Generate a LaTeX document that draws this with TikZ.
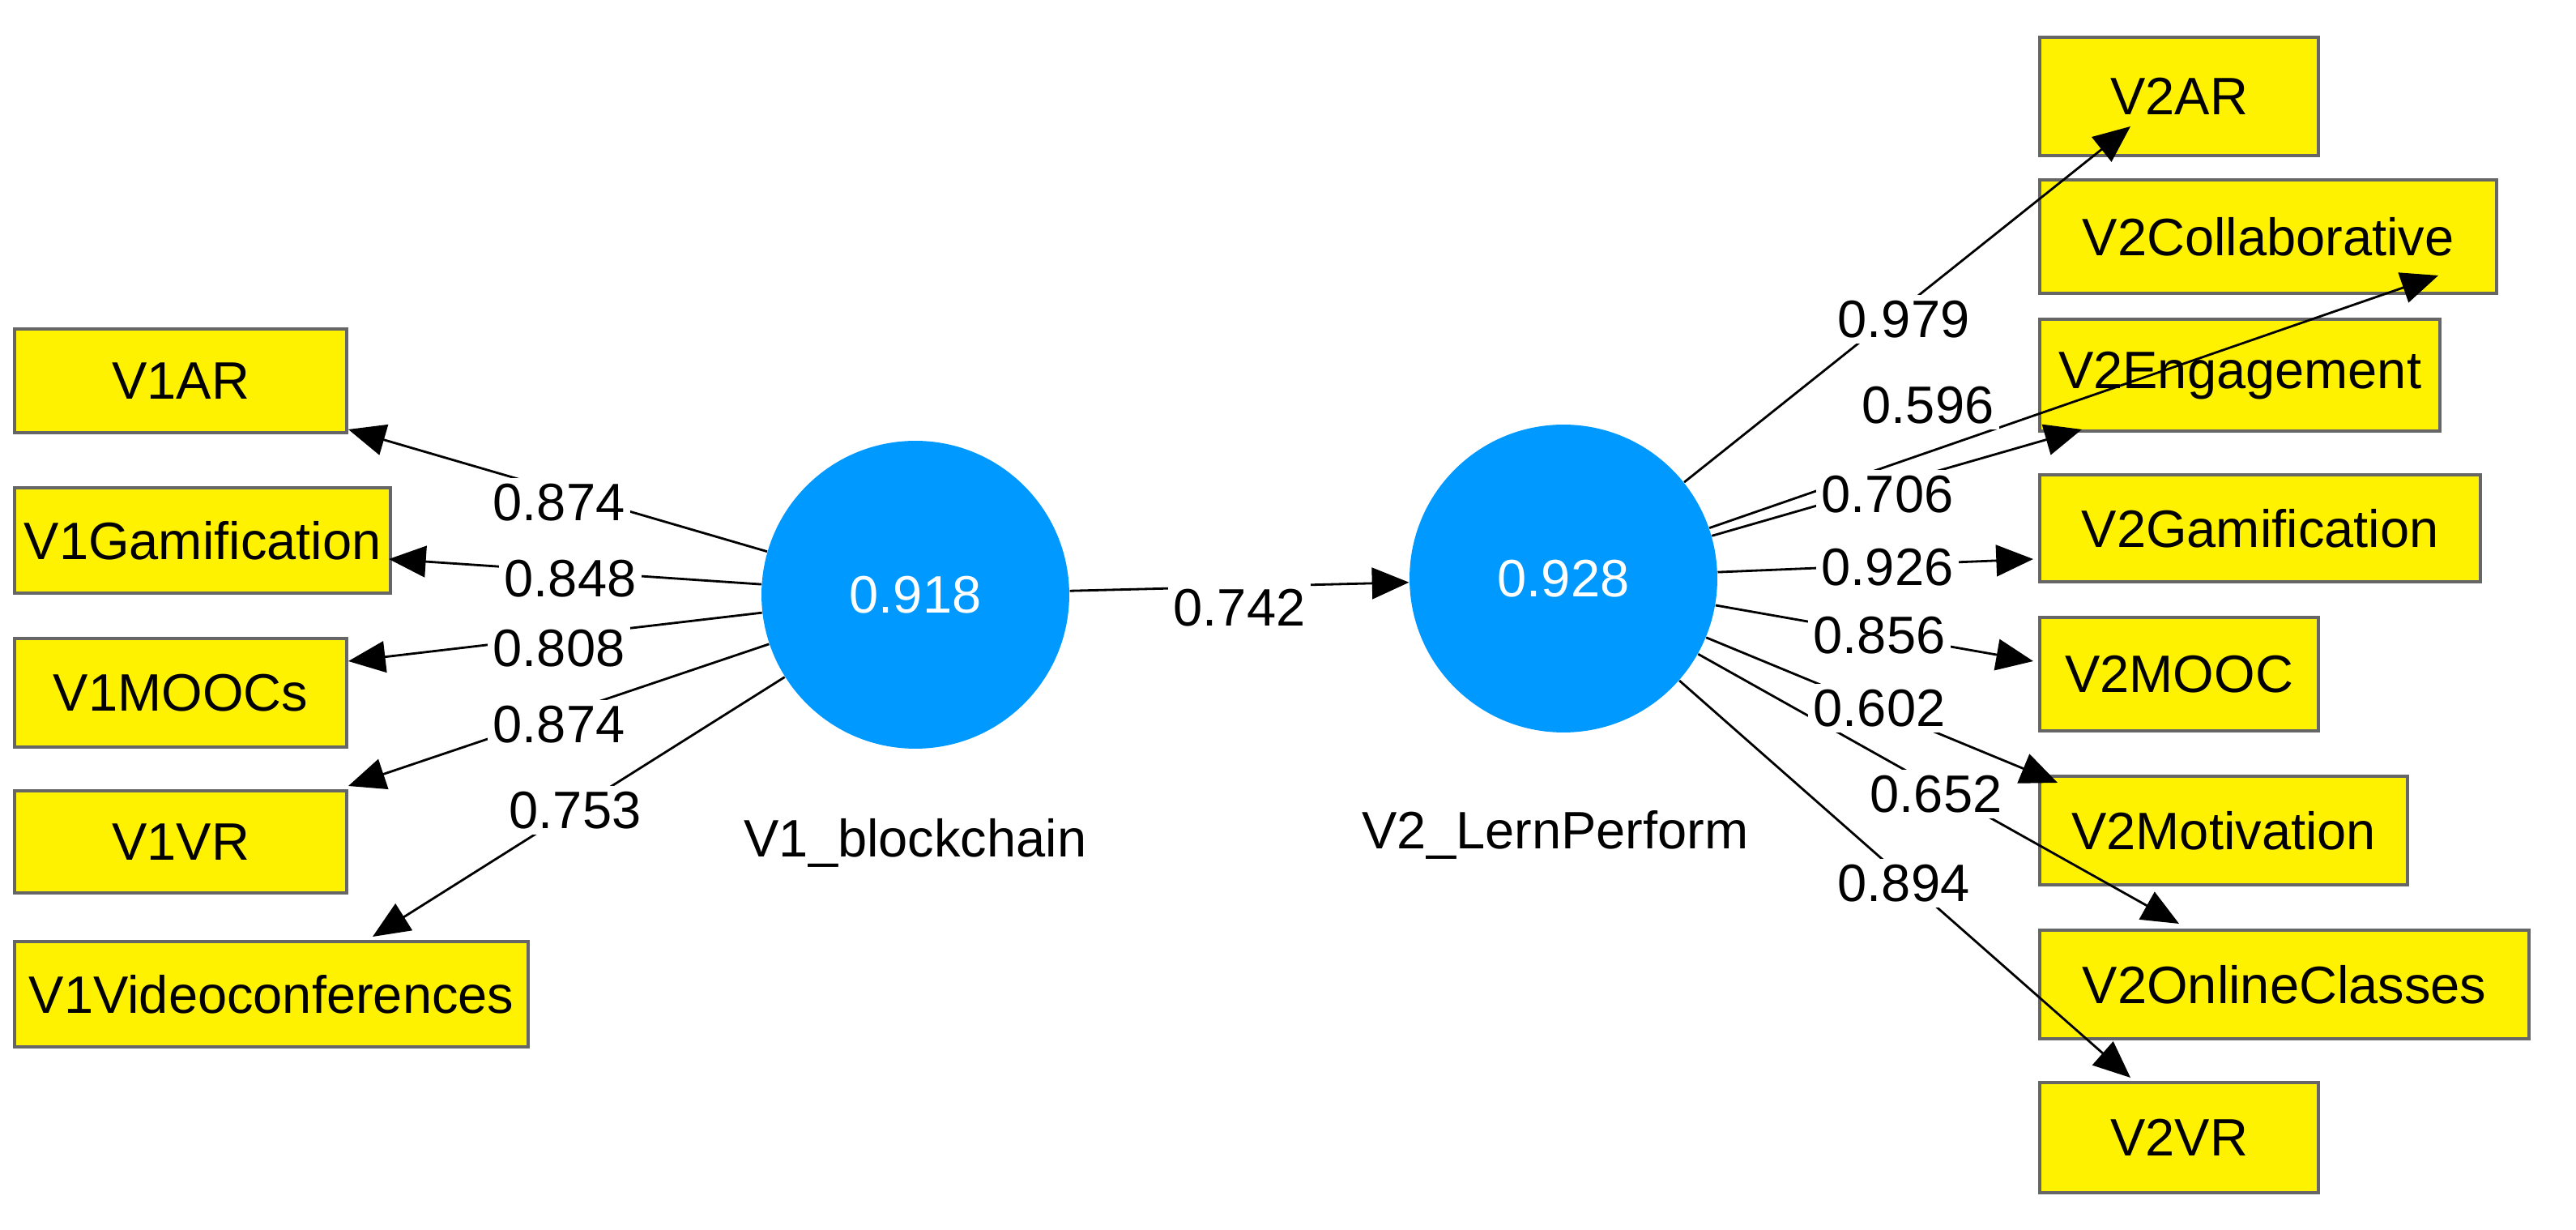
\documentclass[tikz,border=0pt]{standalone}
\usepackage{fontspec}
\setmainfont{Liberation Sans}
\usetikzlibrary{arrows.meta}
\definecolor{lv}{RGB}{0,153,255}
\begin{document}
\begin{tikzpicture}[x=0.02cm,y=-0.02cm,
 font=\fontsize{18.5}{21}\selectfont,
 box/.style={draw=black!60,fill=yellow,line width=1.2pt,inner sep=0pt},
 lv/.style={circle,fill=lv,minimum size=3.8cm,inner sep=0pt,text=white},
 ar/.style={-{Triangle[length=13pt,width=11pt]},line width=0.8pt},
 lb/.style={fill=white,inner sep=2pt}]
\useasboundingbox (0,0) rectangle (1590,759);
\newcommand\bx[5]{\node[box,minimum width=#3*0.02cm-#2*0.02cm,minimum height=#5*0.02cm-#4*0.02cm,anchor=north west] (#1) at (#2,#4) {#1};}
% left boxes
\bx{V1AR}{8}{213}{202}{266}
\bx{V1Gamification}{8}{240}{300}{365}
\bx{V1MOOCs}{8}{213}{393}{460}
\bx{V1VR}{8}{213}{487}{550}
\bx{V1Videoconferences}{8}{325}{580}{645}
% right boxes
\bx{V2AR}{1258}{1430}{22}{95}
\bx{V2Collaborative}{1258}{1540}{110}{180}
\bx{V2Engagement}{1258}{1505}{196}{265}
\bx{V2Gamification}{1258}{1530}{292}{358}
\bx{V2MOOC}{1258}{1430}{380}{450}
\bx{V2Motivation}{1258}{1485}{478}{545}
\bx{V2OnlineClasses}{1258}{1560}{573}{640}
\bx{V2VR}{1258}{1430}{667}{735}
% circles
\node[lv] (c1) at (565,367) {0.918};
\node[lv] (c2) at (965,357) {0.928};
\node (l1) at (565,520) {V1\_blockchain};
\node (l2) at (960,515) {V2\_LernPerform};
% end coordinates
\coordinate (e1) at (215,265); \coordinate (e2) at (240,345);
\coordinate (e3) at (215,408); \coordinate (e4) at (215,485);
\coordinate (e5) at (230,578);
\coordinate (f1) at (1315,78); \coordinate (f2) at (1505,170);
\coordinate (f3) at (1285,265); \coordinate (f4) at (1255,345);
\coordinate (f5) at (1255,408); \coordinate (f6) at (1270,483);
\coordinate (f7) at (1345,570); \coordinate (f8) at (1315,665);
\foreach \e in {e1,e2,e3,e4,e5} \draw[ar] (c1) -- (\e);
\foreach \f in {f1,f2,f3,f4,f5,f6,f7,f8} \draw[ar] (c2) -- (\f);
\draw[ar] (c1) -- (c2);
% loadings
\node[lb] (t1) at (345,310) {0.874};
\node[lb] (t2) at (352,357) {0.848};
\node[lb] (t3) at (345,400) {0.808};
\node[lb] (t4) at (345,447) {0.874};
\node[lb] (t5) at (355,500) {0.753};
\node[lb] (t0) at (765,375) {0.742};
\node[lb] (u1) at (1175,197) {0.979};
\node[lb] (u2) at (1190,250) {0.596};
\node[lb] (u3) at (1165,305) {0.706};
\node[lb] (u4) at (1165,350) {0.926};
\node[lb] (u5) at (1160,392) {0.856};
\node[lb] (u6) at (1160,437) {0.602};
\node[lb] (u7) at (1195,490) {0.652};
\node[lb] (u8) at (1175,545) {0.894};
\end{tikzpicture}
\end{document}
